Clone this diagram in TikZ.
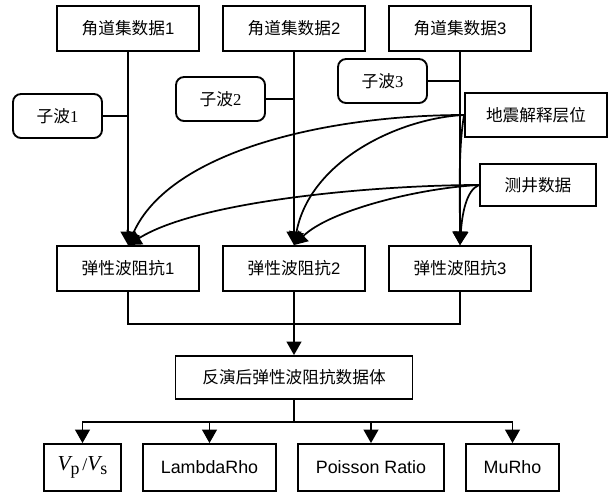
\documentclass[tikz,border=0pt]{standalone}
\usepackage{fontspec}
\setmainfont{Liberation Sans}
\newfontfamily\cjk{Noto Sans CJK SC}
\newfontfamily\serifnum{Liberation Serif}
\usetikzlibrary{arrows.meta}
\begin{document}
\begin{tikzpicture}[x=0.75pt,y=-0.75pt,
  box/.style={draw, line width=1.4pt, inner sep=0pt, font=\fontsize{12.5}{15}\selectfont},
  bigbox/.style={box, minimum width=106.5pt, minimum height=33.75pt},
  wavebox/.style={box, rounded corners=6pt, minimum width=66.75pt, minimum height=33pt},
  outbox/.style={box, minimum height=35.25pt, font=\fontsize{13.4}{16}\selectfont},
  ln/.style={line width=1.3pt},
  arr/.style={line width=1.3pt, -{Triangle[length=10pt,width=11pt]}},
  ]
\useasboundingbox (0,0) rectangle (614,493);
% top boxes
\node[bigbox] (t1) at (128,28.5) {{\cjk 角道集数据}1};
\node[bigbox] (t2) at (294,28.5) {{\cjk 角道集数据}2};
\node[bigbox] (t3) at (460,28.5) {{\cjk 角道集数据}3};
% wavelets
\node[wavebox] (w1) at (57.5,116) {{\cjk 子波}\serifnum 1};
\node[wavebox] (w2) at (220.5,99) {{\cjk 子波}\serifnum 2};
\node[wavebox] (w3) at (382.5,81) {{\cjk 子波}\serifnum 3};
% horizons and well
\node[box, minimum width=106.5pt, minimum height=33pt] (hz) at (536,115) {\cjk 地震解释层位};
\node[box, minimum width=87pt, minimum height=31.5pt] (wl) at (538,185) {\cjk 测井数据};
% elastic impedance
\node[bigbox] (m1) at (128,268.5) {{\cjk 弹性波阻抗}1};
\node[bigbox] (m2) at (294,268.5) {{\cjk 弹性波阻抗}2};
\node[bigbox] (m3) at (460,268.5) {{\cjk 弹性波阻抗}3};
% inversion volume
\node[box, minimum width=177.75pt, minimum height=32.25pt] (inv) at (294,377.5) {\cjk 反演后弹性波阻抗数据体};
% outputs
\node[outbox, minimum width=57.75pt] (o1) at (82.5,467.5) {{\serifnum\fontsize{16}{18}\selectfont\itshape V}\raisebox{-0.45ex}{\serifnum p}\,{\serifnum /}{\serifnum\fontsize{16}{18}\selectfont\itshape V}\raisebox{-0.45ex}{\serifnum s}};
\node[outbox, minimum width=99.75pt] (o2) at (209.5,467.5) {LambdaRho};
\node[outbox, minimum width=109.5pt] (o3) at (371,467.5) {Poisson Ratio};
\node[outbox, minimum width=69.75pt] (o4) at (512.5,467.5) {MuRho};
% vertical flows
\draw[arr] (t1) -- (m1);
\draw[arr] (t2) -- (m2);
\draw[arr] (t3) -- (m3);
% wavelet connectors
\draw[ln] (w1.east) -- (w1.east -| t1.south);
\draw[ln] (w2.east) -- (w2.east -| t2.south);
\draw[ln] (w3.east) -- (w3.east -| t3.south);
% horizon curves
\draw[arr] (hz.west) .. controls (330,115) and (170,150) .. (m1.north);
\draw[arr] (hz.west) .. controls (400,118) and (310,160) .. (m2.north);
\draw[arr] (hz.west) .. controls (458,150) and (460,200) .. (m3.north);
% well curves
\draw[arr] (wl.west) .. controls (380,185) and (200,200) .. (m1.north);
\draw[arr] (wl.west) .. controls (420,188) and (330,210) .. (m2.north);
\draw[arr] (wl.west) .. controls (466,190) and (462,215) .. (m3.north);
% merge
\coordinate (j) at (294,324);
\draw[ln] (m1.south) |- (j) -| (m3.south);
\draw[ln] (m2.south) -- (j);
\draw[arr] (j) -- (inv.north);
% branch
\coordinate (br) at (294,422);
\draw[ln] (inv.south) -- (br);
\draw[arr] (br) -| (o1.north);
\draw[arr] (br) -| (o2.north);
\draw[arr] (br) -| (o3.north);
\draw[arr] (br) -| (o4.north);
\end{tikzpicture}
\end{document}
